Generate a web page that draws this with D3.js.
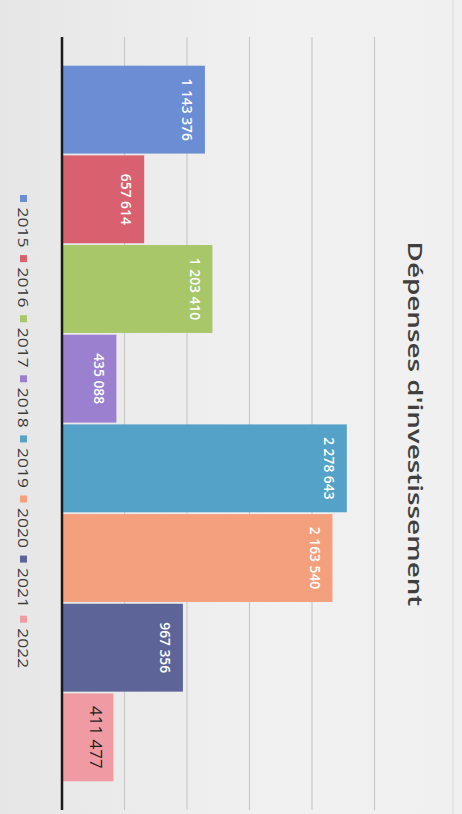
<!DOCTYPE html>
<html>
<head>
<meta charset="utf-8">
<script src="https://cdn.jsdelivr.net/npm/d3@7"></script>
<style>
  html, body { margin: 0; padding: 0; background: #eeeeee; }
  svg { display: block; }
</style>
</head>
<body>
<svg id="chart" width="462" height="814"></svg>
<script>
// ---- data ----
const years = ["2015", "2016", "2017", "2018", "2019", "2020", "2021", "2022"];
const values = [1143376, 657614, 1203410, 435088, 2278643, 2163540, 967356, 411477];
const labels = ["1 143 376", "657 614", "1 203 410", "435 088", "2 278 643", "2 163 540", "967 356", "411 477"];
const colors = ["#6b8dd4", "#d9606f", "#a7c768", "#9a80cf", "#55a2c9", "#f5a07c", "#5d6598", "#f09ba4"];
const gridTicks = [0, 500000, 1000000, 1500000, 2000000, 2500000];
const title = "Dépenses d'investissement";

(function () {
const svg = d3.select("#chart");
const W = 462, H = 814;

// background (photo-like light gray)
const defs = svg.append("defs");
const grad = defs.append("linearGradient").attr("id", "bg").attr("x1", 0).attr("x2", 1).attr("y1", 0).attr("y2", 0);
grad.append("stop").attr("offset", "0%").attr("stop-color", "#e6e6e6");
grad.append("stop").attr("offset", "60%").attr("stop-color", "#f1f1f1");
grad.append("stop").attr("offset", "100%").attr("stop-color", "#f0f0f0");
svg.append("rect").attr("width", W).attr("height", H).attr("fill", "url(#bg)");
svg.append("line").attr("x1", 453).attr("x2", 453).attr("y1", 0).attr("y2", H)
  .attr("stroke", "#dcdcdc").attr("stroke-width", 1);

const plotTop = 37, plotBottom = 810;
const x = d3.scaleLinear().domain([0, 2500000]).range([62, 374.5]);
const y = d3.scaleBand().domain(years).range([plotTop, plotBottom]).paddingInner(0.02).paddingOuter(0.32);

// grid lines
svg.append("g").selectAll("line").data(gridTicks.slice(1)).join("line")
  .attr("x1", d => x(d)).attr("x2", d => x(d))
  .attr("y1", plotTop).attr("y2", plotBottom)
  .attr("stroke", "#c9c9c9").attr("stroke-width", 1.2);

// bars
const data = years.map((yr, i) => ({ yr, v: values[i], label: labels[i], c: colors[i], i }));
svg.append("g").selectAll("rect").data(data).join("rect")
  .attr("x", x(0) + 1)
  .attr("y", d => y(d.yr))
  .attr("width", d => x(d.v) - x(0) - 1)
  .attr("height", y.bandwidth())
  .attr("fill", d => d.c);

// axis line
svg.append("line").attr("x1", x(0)).attr("x2", x(0)).attr("y1", plotTop).attr("y2", plotBottom)
  .attr("stroke", "#1a1a1a").attr("stroke-width", 2.5);

// value labels (rotated, reading top to bottom)
const lastIdx = data.length - 1;
svg.append("g").selectAll("text").data(data).join("text")
  .attr("transform", d => {
    const cx = x(d.v) - (d.i === lastIdx ? 17 : 17);
    const sc = d.i === lastIdx ? 1 : 0.92;
    return `translate(${cx},${y(d.yr) + y.bandwidth() / 2}) rotate(90) scale(${sc},1)`;
  })
  .attr("text-anchor", "middle")
  .attr("dominant-baseline", "central")
  .attr("font-family", "'Open Sans', sans-serif")
  .attr("font-weight", d => d.i === lastIdx ? 400 : 600)
  .attr("font-size", d => d.i === lastIdx ? 17 : 15)
  .attr("fill", d => d.i === lastIdx ? "#1e1e1e" : "#ffffff")
  .text(d => d.label);

// legend
const legY0 = 195, legStep = 60.1;
const leg = svg.append("g").selectAll("g").data(data).join("g")
  .attr("transform", d => `translate(23,${legY0 + d.i * legStep}) rotate(90)`);
leg.append("rect").attr("x", 0).attr("y", -4).attr("width", 7).attr("height", 7).attr("fill", d => d.c);
leg.append("text")
  .attr("x", 10).attr("y", 0)
  .attr("transform", "scale(1.25,1)")
  .attr("dominant-baseline", "central")
  .attr("font-family", "'Open Sans', sans-serif")
  .attr("font-size", 14)
  .attr("fill", "#3a3a3a")
  .text(d => d.yr);

// title
const t = svg.append("text")
  .attr("text-anchor", "middle")
  .attr("dominant-baseline", "central")
  .attr("font-family", "'Open Sans', sans-serif")
  .attr("font-weight", 600)
  .attr("font-size", 20)
  .attr("fill", "#3f3f3f")
  .text(title);
const len = t.node().getComputedTextLength();
const sx = 365 / len;
t.attr("transform", `translate(416,424) rotate(90) scale(${sx},1)`);
})();
</script>
</body>
</html>
